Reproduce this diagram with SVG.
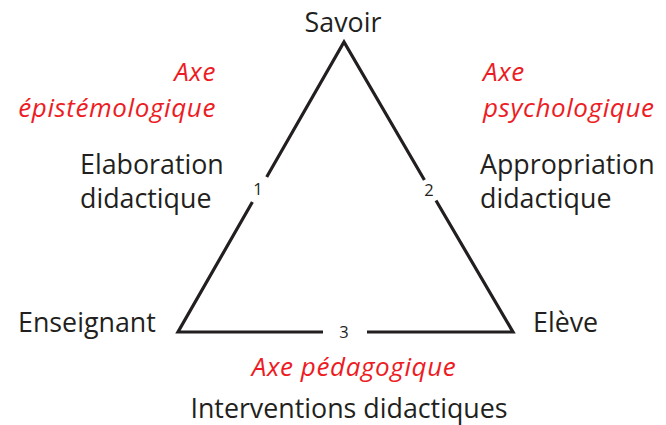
<svg xmlns="http://www.w3.org/2000/svg" width="666" height="425" viewBox="0 0 666 425">
<style>
.lbl{font-family:"Open Sans","Noto Sans","Liberation Sans",sans-serif;font-size:26.8px;fill:#231f20}
.axe{font-family:"Open Sans","Noto Sans","Liberation Sans",sans-serif;font-style:italic;font-size:26px;letter-spacing:0.6px;fill:#ed1c24}
.num{font-family:"Open Sans","Noto Sans","Liberation Sans",sans-serif;font-size:16.5px;fill:#231f20;text-anchor:middle}
.edge{fill:none;stroke:#231f20;stroke-width:3.2;stroke-linejoin:miter;stroke-miterlimit:10}
</style>
<rect width="666" height="425" fill="#ffffff"/>
<g id="connectors">
<path class="edge" d="M266.7 177 L344 42 L424.4 180 M436 200.5 L513 332 L367 332 M323 332 L178 332 L252.4 202"/>
</g>
<g id="label-1"><text class="num" x="258" y="195">1</text></g>
<g id="label-2"><text class="num" x="429" y="196">2</text></g>
<g id="label-3"><text class="num" x="344" y="338">3</text></g>
<g id="savoir"><text class="lbl" x="343" y="32" text-anchor="middle">Savoir</text></g>
<g id="enseignant"><text class="lbl" x="18" y="332">Enseignant</text></g>
<g id="eleve"><text class="lbl" x="533" y="332">Elève</text></g>
<g id="axe-epistemologique">
<text class="axe" x="216" y="81" text-anchor="end">Axe</text>
<text class="axe" x="216" y="117" text-anchor="end">épistémologique</text>
</g>
<g id="axe-psychologique">
<text class="axe" x="483" y="81">Axe</text>
<text class="axe" x="483" y="117">psychologique</text>
</g>
<g id="elaboration">
<text class="lbl" x="80" y="174">Elaboration</text>
<text class="lbl" x="80" y="208">didactique</text>
</g>
<g id="appropriation">
<text class="lbl" x="480" y="174">Appropriation</text>
<text class="lbl" x="480" y="208">didactique</text>
</g>
<g id="axe-pedagogique"><text class="axe" x="354" y="376" text-anchor="middle">Axe pédagogique</text></g>
<g id="interventions"><text class="lbl" x="349" y="418" text-anchor="middle">Interventions didactiques</text></g>
</svg>
